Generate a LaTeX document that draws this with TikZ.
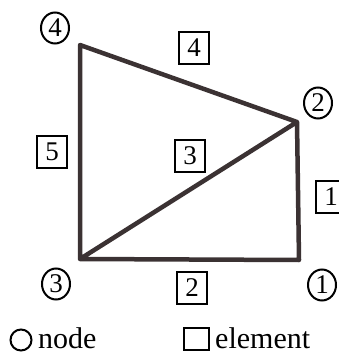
\documentclass[tikz,border=0pt]{standalone}
\usepackage{fontspec}
\setmainfont{Liberation Serif}
\usepackage{tikz}
\usetikzlibrary{positioning}
\usetikzlibrary{shapes.geometric}
\definecolor{barcol}{HTML}{3B3233}
\tikzset{bar/.style = {line width=4.5pt, barcol, line cap=round, line join=round}}
\tikzset{nodenum/.style = {draw, ellipse, line width=2pt, inner sep=0, minimum width=28pt, minimum height=31pt, font=\fontsize{27}{27}\selectfont}}
\tikzset{elemnum/.style = {draw, rectangle, line width=2pt, inner sep=0, minimum width=30pt, minimum height=32pt, font=\fontsize{27}{27}\selectfont}}
\tikzset{legtext/.style = {anchor=base west, inner sep=0, font=\fontsize{30}{30}\selectfont}}

\begin{document}
\begin{tikzpicture}[x=1pt, y=-1pt]
      \useasboundingbox (0,0) rectangle (338,355);
      \coordinate (p1) at (299,260);
      \coordinate (p2) at (297,122);
      \coordinate (p3) at (80,259);
      \coordinate (p4) at (80,45);

      \draw[bar] (p3) -- (p1) -- (p2) -- (p4) -- (p3) -- (p2);

      \node[nodenum] (n1) at (322,285) {1};
      \node[nodenum] (n2) at (318,103) {2};
      \node[nodenum] (n3) at (56,284) {3};
      \node[nodenum] (n4) at (55,28) {4};

      \node[elemnum] (e1) at (331,197) {1};
      \node[elemnum] (e2) at (192,288) {2};
      \node[elemnum] (e3) at (190,156) {3};
      \node[elemnum] (e4) at (194,48) {4};
      \node[elemnum] (e5) at (52,152) {5};

      % legend
      \node[draw, circle, line width=2pt, inner sep=0, minimum size=21pt] (legnode) at (21,340) {};
      \node[legtext] (legnodetext) at (38,348) {node};
      \node[draw, rectangle, line width=2pt, inner sep=0, minimum width=25pt, minimum height=22pt] (legelem) at (196,339) {};
      \node[legtext] (legelemtext) at (215,348) {element};
    \end{tikzpicture}
\end{document}
